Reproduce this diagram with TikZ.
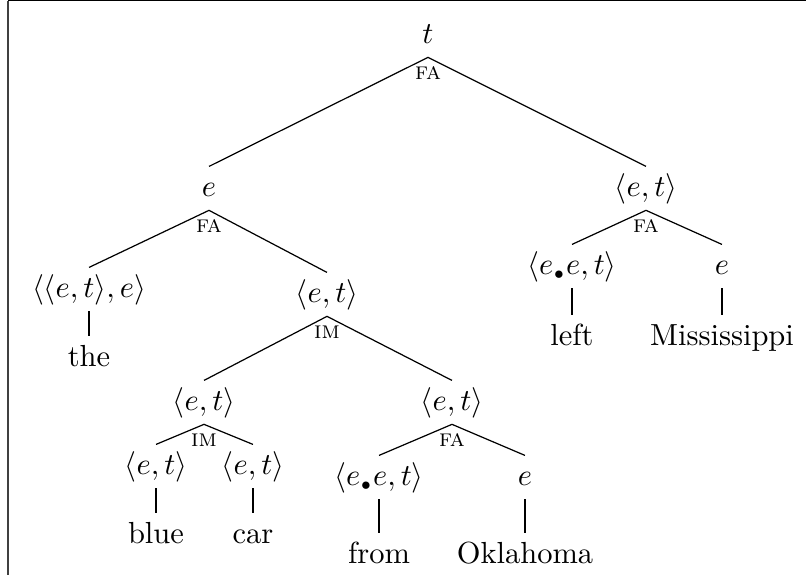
\documentclass[tikz,border=0pt]{standalone}
\begin{document}
\begin{tikzpicture}[x=0.3279pt,y=-0.3279pt,
  tn/.style={anchor=base, inner xsep=0pt, inner ysep=1.5pt, text height=8pt, text depth=3pt},
  rulelab/.style={font=\fontsize{8}{9}\selectfont\scshape, inner sep=0pt, anchor=center},
  br/.style={line width=0.4pt}]
\useasboundingbox (0,0) rectangle (806,575);
% partial frame
\coordinate (fa) at (8,0.8);
\coordinate (fb) at (806,0.8);
\coordinate (fc) at (8,575);
\draw[line width=0.4pt] (fb) -- (fa);
\draw[line width=0.4pt, black!75] (fa) -- (fc);
% nodes
\node[tn] (t) at (428,43) {$t$};
\node[tn] (e1) at (209,196) {$e$};
\node[tn] (et1) at (646,196) {$\langle e,t\rangle$};
\node[tn] (ete) at (89,297) {$\langle\langle e,t\rangle,e\rangle$};
\node[tn] (et2) at (327,302) {$\langle e,t\rangle$};
\node[tn] (the) at (89,366) {the};
\node[tn] (eet1) at (572,274) {$\langle e_{\scriptscriptstyle\bullet}e,t\rangle$};
\node[tn] (e2) at (722,274) {$e$};
\node[tn] (left) at (572,345) {left};
\node[tn] (miss) at (722,345) {Mississippi};
\node[tn] (et3) at (204,410) {$\langle e,t\rangle$};
\node[tn] (et4) at (452,410) {$\langle e,t\rangle$};
\node[tn] (et5) at (156,474) {$\langle e,t\rangle$};
\node[tn] (et6) at (253,474) {$\langle e,t\rangle$};
\node[tn] (blue) at (156,543) {blue};
\node[tn] (car) at (253,543) {car};
\node[tn] (eet2) at (379,485) {$\langle e_{\scriptscriptstyle\bullet}e,t\rangle$};
\node[tn] (e3) at (525,485) {$e$};
\node[tn] (from) at (379,563) {from};
\node[tn] (okla) at (525,563) {Oklahoma};
% rule labels
\node[rulelab] (r1) at ([yshift=-5.2pt]t.south) {fa};
\node[rulelab] (r2) at ([yshift=-5.2pt]e1.south) {fa};
\node[rulelab] (r3) at ([yshift=-5.2pt]et1.south) {fa};
\node[rulelab] (r4) at ([yshift=-5.2pt]et2.south) {im};
\node[rulelab] (r5) at ([yshift=-5.2pt]et3.south) {im};
\node[rulelab] (r6) at ([yshift=-5.2pt]et4.south) {fa};
% branches
\draw[br] (e1.north) -- (t.south) -- (et1.north);
\draw[br] (ete.north) -- (e1.south) -- (et2.north);
\draw[br] (eet1.north) -- (et1.south) -- (e2.north);
\draw[br] (ete.south) -- (the.north);
\draw[br] (eet1.south) -- (left.north);
\draw[br] (e2.south) -- (miss.north);
\draw[br] (et3.north) -- (et2.south) -- (et4.north);
\draw[br] (et5.north) -- (et3.south) -- (et6.north);
\draw[br] (eet2.north) -- (et4.south) -- (e3.north);
\draw[br] (et5.south) -- (blue.north);
\draw[br] (et6.south) -- (car.north);
\draw[br] (eet2.south) -- (from.north);
\draw[br] (e3.south) -- (okla.north);
\end{tikzpicture}
\end{document}
